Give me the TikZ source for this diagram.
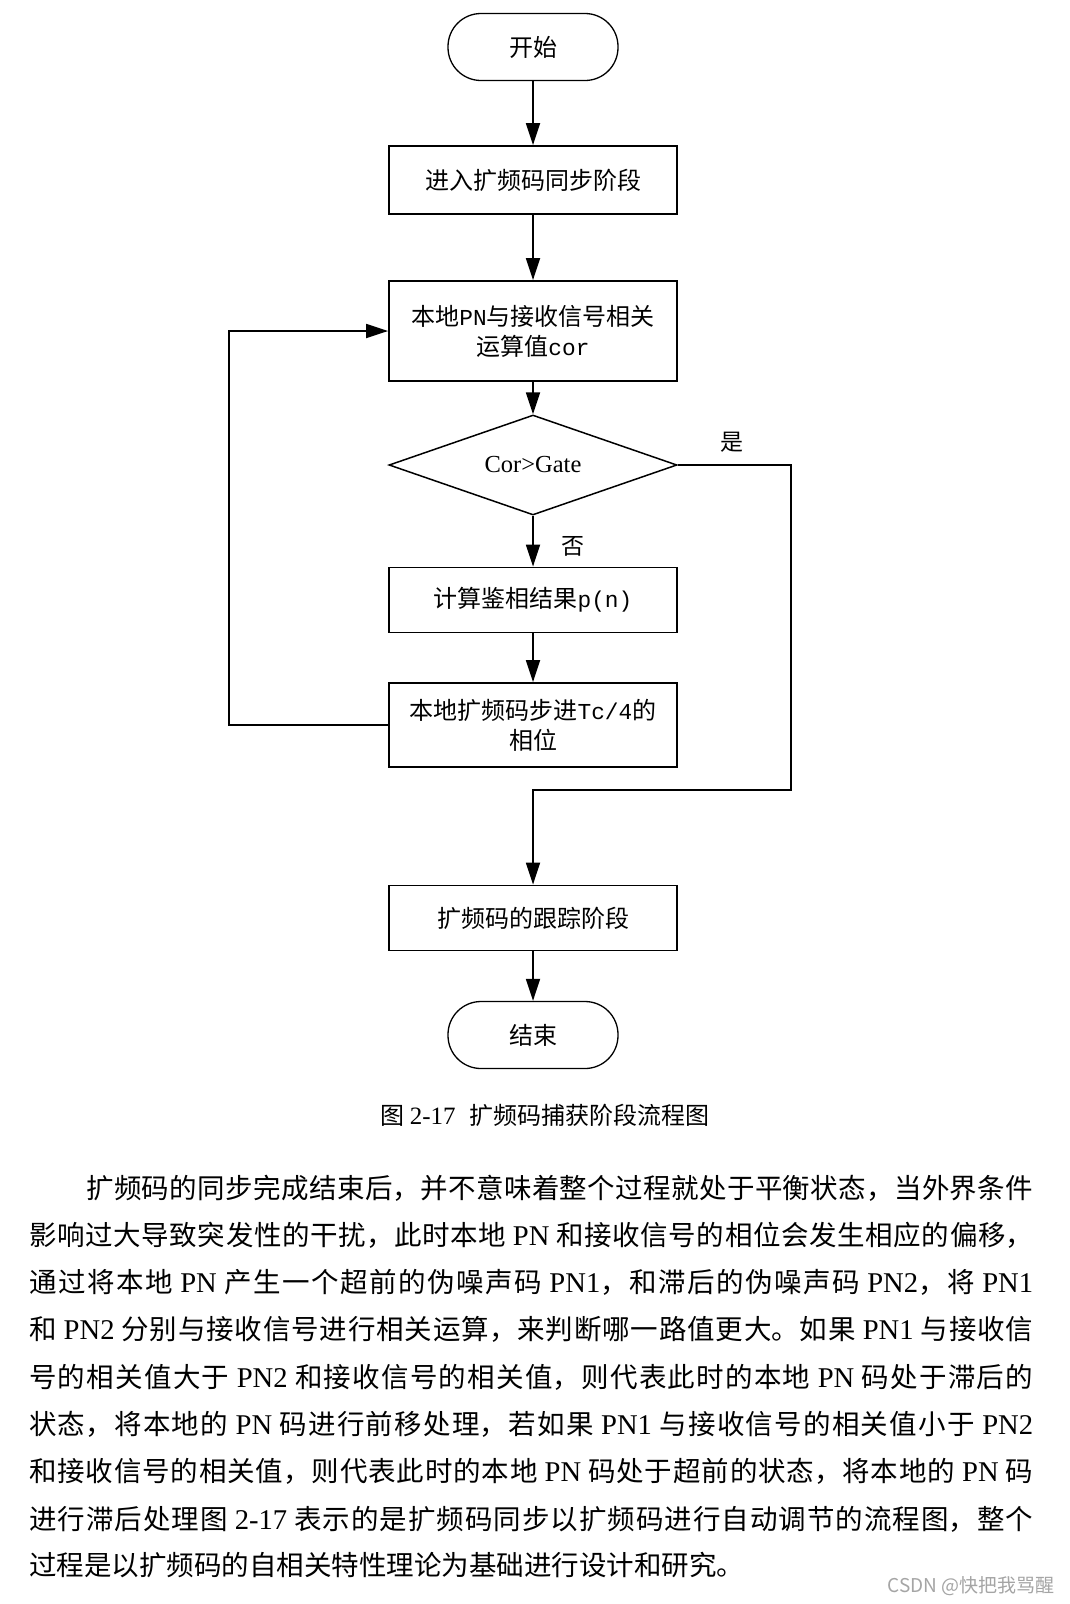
\documentclass[tikz,border=0pt]{standalone}
\usepackage{fontspec}
\setmainfont{Liberation Serif}
\newfontfamily\cjk{Noto Sans CJK SC}
\newfontfamily\monof[Scale=0.95]{Liberation Mono}
\newfontfamily\latf[Scale=1.04]{Liberation Serif}
\usetikzlibrary{arrows.meta,shapes.geometric}
\XeTeXlinebreaklocale "zh"
\XeTeXlinebreakskip=0pt plus 3pt
\newcommand\latw[1]{{\latf #1}}
\newcommand\mnw[1]{{\monof #1}}
\newcommand\pline[2]{\parbox{#1}{\parfillskip=0pt\relax\tolerance=9999\hbadness=10000\emergencystretch=20pt #2}}
\tikzset{
  proc/.style={draw, line width=1.8pt, minimum width=288pt, inner sep=0pt, align=center,
    font=\cjk\fontsize{24}{30}\selectfont},
  term/.style={draw, line width=1.3pt, rounded corners=33pt, minimum width=170pt,
    minimum height=67pt, inner sep=0pt, font=\cjk\fontsize{24}{30}\selectfont},
  decis/.style={draw, diamond, shape aspect=2.88, line width=1.5pt, minimum width=288pt,
    minimum height=100pt, inner sep=0pt, font=\fontsize{24.5}{28}\selectfont},
  arr/.style={-{Triangle[length=22pt,width=14pt]}, line width=1.8pt},
  lbl/.style={font=\cjk\fontsize{23}{28}\selectfont, inner sep=0pt},
  para/.style={anchor=west, inner sep=0pt, font=\cjk\fontsize{27.5}{30}\selectfont}
}
\begin{document}
\begin{tikzpicture}[x=1pt,y=-1pt]
\useasboundingbox (0,0) rectangle (1070,1604);
\fill[white] (0,0) rectangle (1070,1604);

\node[term] (start) at (533,47) {开始};
\node[proc, minimum height=68pt] (b1) at (533,180) {进入扩频码同步阶段};
\node[proc, minimum height=100pt] (b2) at (533,331) {本地\mnw{PN}与接收信号相关\\运算值\mnw{cor}};
\node[decis] (dec) at (533,465) {Cor>Gate};
\node[proc, minimum height=65pt] (b3) at (533,600) {计算鉴相结果\mnw{p(n)}};
\node[proc, minimum height=84pt] (b4) at (533,725) {本地扩频码步进\mnw{Tc/4}的\\相位};
\node[proc, minimum height=65pt] (b5) at (533,918) {扩频码的跟踪阶段};
\node[term] (end) at (533,1035) {结束};

\node[lbl] (yes) at (732,442) {是};
\node[lbl] (no) at (573,546) {否};

\coordinate (rc) at (791,790);
\coordinate (lc) at (229,725);

\draw[arr] (start) -- (b1);
\draw[arr] (b1) -- (b2);
\draw[arr] (b2) -- (dec);
\draw[arr] (dec) -- (b3);
\draw[arr] (b3) -- (b4);
\draw[arr] (dec.east) -| (rc) -- (rc -| b5) -- (b5);
\draw[arr] (b4.west) -- (lc) |- (b2.west);
\draw[arr] (b5) -- (end);

\node[inner sep=0pt, font=\cjk\fontsize{24}{28}\selectfont] (cap) at (545,1115)
  {图 \latw{2-17}\hspace{14pt}扩频码捕获阶段流程图};

\node[para] (p1) at (86,1188) {\pline{947pt}{扩频码的同步完成结束后，并不意味着整个过程就处于平衡状态，当外界条件}};
\node[para] (p2) at (29,1235.6) {\pline{1004pt}{影响过大导致突发性的干扰，此时本地 \latw{PN} 和接收信号的相位会发生相应的偏移，}};
\node[para] (p3) at (29,1282.7) {\pline{1004pt}{通过将本地 \latw{PN} 产生一个超前的伪噪声码 \latw{PN1}，和滞后的伪噪声码 \latw{PN2}，将 \latw{PN1}}};
\node[para] (p4) at (29,1329.8) {\pline{1004pt}{和 \latw{PN2} 分别与接收信号进行相关运算，来判断哪一路值更大。如果 \latw{PN1} 与接收信}};
\node[para] (p5) at (29,1376.9) {\pline{1004pt}{号的相关值大于 \latw{PN2} 和接收信号的相关值，则代表此时的本地 \latw{PN} 码处于滞后的}};
\node[para] (p6) at (29,1423.9) {\pline{1004pt}{状态，将本地的 \latw{PN} 码进行前移处理，若如果 \latw{PN1} 与接收信号的相关值小于 \latw{PN2}}};
\node[para] (p7) at (29,1470.9) {\pline{1004pt}{和接收信号的相关值，则代表此时的本地 \latw{PN} 码处于超前的状态，将本地的 \latw{PN} 码}};
\node[para] (p8) at (29,1519) {\pline{1004pt}{进行滞后处理图 \latw{2-17} 表示的是扩频码同步以扩频码进行自动调节的流程图，整个}};
\node[para] (p9) at (29,1565) {过程是以扩频码的自相关特性理论为基础进行设计和研究。};

\node[anchor=east, inner sep=0pt, text={rgb,255:red,165;green,165;blue,165},
  font=\cjk\fontsize{19}{21}\selectfont] (wm) at (1055,1586) {CSDN @快把我骂醒};
\end{tikzpicture}
\end{document}
